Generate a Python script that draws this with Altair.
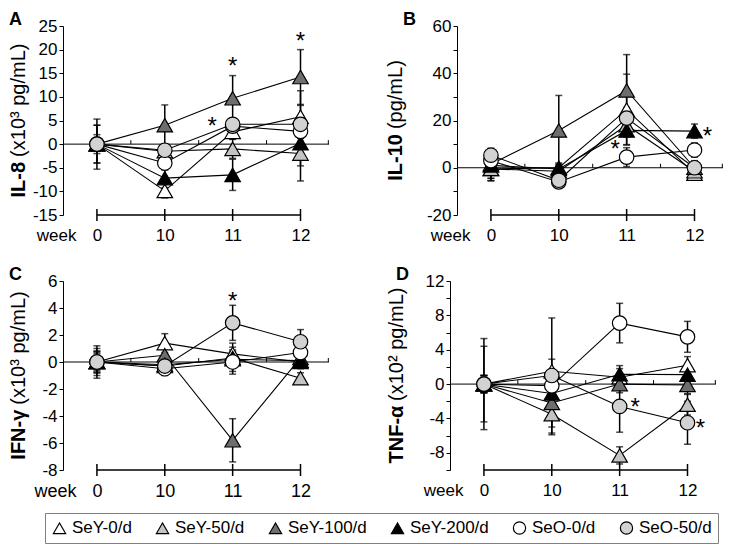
import altair as alt
import pandas as pd

series = ["SeY-0/d", "SeY-50/d", "SeY-100/d", "SeY-200/d", "SeO-0/d", "SeO-50/d"]
shapes = ["triangle-up", "triangle-up", "triangle-up", "triangle-up", "circle", "circle"]
fills = ["#FFFFFF", "#C4C4C4", "#6E6E6E", "#000000", "#FFFFFF", "#D2D2D2"]
week_labels = ["0", "10", "11", "12"]

# Panel A: IL-8 (x10^3 pg/mL)
il8_mean = {
    "SeY-0/d": [0, -9.9, 2.6, 5.8],
    "SeY-50/d": [0, -1.5, -1.0, -2.0],
    "SeY-100/d": [0, 4.0, 9.7, 14.2],
    "SeY-200/d": [0, -7.2, -6.5, 0.2],
    "SeO-0/d": [0, -4.0, 3.8, 2.7],
    "SeO-50/d": [0, -1.3, 4.2, 4.2],
}
il8_err = {
    "SeY-0/d": [1.2, 1.5, 1.5, 5.5],
    "SeY-50/d": [4.0, 1.5, 2.0, 2.6],
    "SeY-100/d": [5.3, 4.3, 4.8, 5.8],
    "SeY-200/d": [4.0, 2.0, 3.3, 8.0],
    "SeO-0/d": [2.0, 1.5, 1.5, 1.5],
    "SeO-50/d": [1.0, 1.0, 1.0, 1.5],
}
il8_star_x = [2.0, 1.70, 3.0]
il8_star_y = [17.8, 5.1, 23.1]

# Panel B: IL-10 (pg/mL)
il10_mean = {
    "SeY-0/d": [-0.5, 0.0, 24.6, -2.5],
    "SeY-50/d": [-0.5, -1.5, 18.0, -1.5],
    "SeY-100/d": [1.5, 15.8, 32.7, 0.0],
    "SeY-200/d": [1.0, -0.5, 15.8, 15.5],
    "SeO-0/d": [3.0, -6.0, 4.5, 7.5],
    "SeO-50/d": [5.3, -5.3, 21.0, 0.0],
}
il10_err = {
    "SeY-0/d": [5.0, 2.0, 15.0, 1.5],
    "SeY-50/d": [4.0, 2.0, 5.0, 2.0],
    "SeY-100/d": [6.0, 14.8, 15.2, 3.0],
    "SeY-200/d": [6.5, 2.0, 6.0, 3.0],
    "SeO-0/d": [3.0, 1.0, 4.0, 3.0],
    "SeO-50/d": [3.0, 1.0, 4.5, 2.0],
}
il10_star_x = [1.83, 3.19]
il10_star_y = [10.3, 15.9]

# Panel C: IFN-gamma (x10^3 pg/mL)
ifn_mean = {
    "SeY-0/d": [0, 1.4, 0.6, 0.0],
    "SeY-50/d": [0, -0.3, 0.3, -1.2],
    "SeY-100/d": [0, 0.5, -5.8, 0.3],
    "SeY-200/d": [0, -0.2, 0.2, 0.1],
    "SeO-0/d": [0, -0.5, 0.0, 0.7],
    "SeO-50/d": [0, -0.3, 2.9, 1.5],
}
ifn_err = {
    "SeY-0/d": [0.8, 0.7, 0.8, 0.5],
    "SeY-50/d": [0.6, 0.5, 0.5, 0.4],
    "SeY-100/d": [1.2, 0.5, 1.6, 0.5],
    "SeY-200/d": [0.8, 0.6, 0.9, 0.5],
    "SeO-0/d": [0.7, 0.5, 0.9, 0.4],
    "SeO-50/d": [1.0, 0.5, 1.3, 0.9],
}
ifn_star_x = [2.0]
ifn_star_y = [5.0]

# Panel D: TNF-alpha (x10^2 pg/mL)
tnf_mean = {
    "SeY-0/d": [0, 1.5, 0.8, 2.2],
    "SeY-50/d": [0, -3.5, -8.3, -2.4],
    "SeY-100/d": [0, -2.2, 0.0, -0.1],
    "SeY-200/d": [0, -1.1, 1.15, 1.1],
    "SeO-0/d": [0, -0.2, 7.1, 5.5],
    "SeO-50/d": [0, 1.0, -2.6, -4.5],
}
tnf_err = {
    "SeY-0/d": [5.3, 1.4, 1.0, 1.0],
    "SeY-50/d": [1.0, 2.4, 1.0, 1.2],
    "SeY-100/d": [1.0, 2.8, 1.0, 1.0],
    "SeY-200/d": [1.0, 1.0, 1.0, 1.0],
    "SeO-0/d": [4.4, 1.0, 2.3, 1.8],
    "SeO-50/d": [1.0, 6.7, 3.0, 2.5],
}
tnf_star_x = [2.23, 3.19]
tnf_star_y = [-2.0, -4.4]

W, H = 266, 189
XDOM = [-0.5, 3.42]
F = "Liberation Sans"

REG = {"(": .333, ")": .333, "x": .5, "1": .556, "0": .556, "³": .333, "²": .333,
       " ": .278, "p": .556, "g": .556, "/": .278, "m": .833, "L": .556}
BLD = {"I": .278, "L": .611, "-": .333, "8": .556, "1": .556, "0": .556, "F": .611,
       "N": .722, "γ": .556, "T": .611, "α": .6}


def tw(s, table, fs):
    return sum(table.get(c, .55) for c in s) * fs


LEG = alt.Legend(title=None, orient="none", legendX=-18, legendY=487, direction="horizontal",
                 labelFont=F, labelFontSize=17, labelColor="black", symbolSize=150,
                 symbolStrokeWidth=1.2, columnPadding=21,
                 labelOffset=4, padding=6, strokeColor="#808080", fillColor="white")


def panel(letter, tbold, trest, means, errs, ylo, yhi, ystep, lstep, sx, sy, title_x, week_fs):
    rows = []
    for s in series:
        for i in range(len(week_labels)):
            m = means[s][i]
            e = errs[s][i]
            rows.append({"series": s, "idx": i, "value": m, "lo": m - e, "hi": m + e})
    df = pd.DataFrame(rows)
    xs = alt.Scale(domain=XDOM, nice=False, zero=False)
    ys = alt.Scale(domain=[ylo, yhi], nice=False, zero=False)
    wk = "[" + ",".join("'%s'" % w for w in week_labels) + "][datum.value]"
    xax = alt.Axis(values=list(range(len(week_labels))), labelExpr=wk, domain=False, ticks=False,
                   grid=False, labelPadding=12, labelFontSize=week_fs, labelFont=F,
                   labelColor="black", title="week", titleX=13, titleY=12, titleAlign="right",
                   titleBaseline="top", titleFontWeight="normal", titleFontSize=week_fs,
                   titleFont=F, titleColor="black")
    yax = alt.Axis(values=list(range(ylo, yhi + 1, ystep)),
                   labelExpr="datum.value %% %d == 0 ? '' + datum.value : ''" % lstep,
                   grid=False, title=None, tickSize=4, labelPadding=2, labelFontSize=17,
                   labelFont=F, labelColor="black", domainColor="black", tickColor="black")

    def X(f):
        return alt.X(f, scale=xs, axis=xax)

    def Y(f):
        return alt.Y(f, scale=ys, axis=yax)

    one = pd.DataFrame({"k": [0]})
    zero = alt.Chart(one).mark_rule(color="black", strokeWidth=1).encode(
        x=alt.XDatum(XDOM[0], type="quantitative", scale=xs, axis=xax),
        x2=alt.X2Datum(XDOM[1]),
        y=alt.YDatum(0, type="quantitative", scale=ys, axis=yax))
    minor = alt.Chart(pd.DataFrame({"m": [0.5, 1.5, 2.5, XDOM[1] - 0.01]})).mark_rule(
        color="black", strokeWidth=1, y2Offset=-4).encode(
        x=X("m:Q"), y=alt.YDatum(0, type="quantitative", scale=ys, axis=yax), y2=alt.Y2Datum(0))
    bracket = alt.Chart(one).mark_rule(color="black", strokeWidth=1.5).encode(
        x=alt.XDatum(0, type="quantitative", scale=xs, axis=xax),
        x2=alt.X2Datum(len(week_labels) - 1),
        y=alt.YDatum(ylo, type="quantitative", scale=ys, axis=yax))
    bticks = alt.Chart(pd.DataFrame({"idx": list(range(len(week_labels)))})).mark_rule(
        color="black", strokeWidth=1.5, yOffset=-6, y2Offset=6).encode(
        x=X("idx:Q"), y=alt.YDatum(ylo, type="quantitative", scale=ys, axis=yax),
        y2=alt.Y2Datum(ylo))
    base = alt.Chart(df)
    lines = base.mark_line(color="black", strokeWidth=1.1).encode(
        x=X("idx:Q"), y=Y("value:Q"), detail="series:N")
    erule = base.mark_rule(color="black", strokeWidth=1.5).encode(
        x=X("idx:Q"), y=Y("lo:Q"), y2="hi:Q")
    caps = base.transform_fold(["lo", "hi"], as_=["k", "v"]).mark_tick(
        orient="horizontal", size=7, thickness=1.5, color="black").encode(
        x=X("idx:Q"), y=Y("v:Q"))
    SH = alt.Shape("series:N", scale=alt.Scale(domain=series, range=shapes), legend=LEG)
    FL = alt.Fill("series:N", scale=alt.Scale(domain=series, range=fills), legend=LEG)
    ST = alt.Stroke("series:N", scale=alt.Scale(domain=series, range=["#000000"] * len(series)),
                    legend=LEG)
    tri = base.transform_filter(alt.FieldOneOfPredicate(field="series", oneOf=series[:4])).mark_point(
        filled=True, size=240, strokeWidth=1.2, opacity=1).encode(
        x=X("idx:Q"), y=Y("value:Q"), shape=SH, fill=FL, stroke=ST)
    circ = base.transform_filter(alt.FieldOneOfPredicate(field="series", oneOf=series[4:])).mark_point(
        filled=True, size=210, strokeWidth=1.2, opacity=1).encode(
        x=X("idx:Q"), y=Y("value:Q"), shape=SH, fill=FL, stroke=ST)
    stars = alt.Chart(pd.DataFrame({"sx": sx, "sy": sy})).mark_text(
        text="*", fontSize=24, font=F, baseline="alphabetic", dy=14, color="black").encode(
        x=X("sx:Q"), y=Y("sy:Q"))
    wb = tw(tbold, BLD, 20)
    wr = tw(trest, REG, 20)
    sp = 5
    start = H / 2 + (wb + sp + wr) / 2
    tb = alt.Chart(one).mark_text(angle=270, align="left", baseline="middle", fontWeight="bold",
                                  fontSize=20, font=F, text=tbold, color="black").encode(
        x=alt.value(title_x), y=alt.value(start))
    tr = alt.Chart(one).mark_text(angle=270, align="left", baseline="middle",
                                  fontSize=20, font=F, text=trest, color="black").encode(
        x=alt.value(title_x), y=alt.value(start - wb - sp))
    let = alt.Chart(one).mark_text(align="left", baseline="top", fontWeight="bold",
                                   fontSize=18, font=F, text=letter, color="black").encode(
        x=alt.value(-54), y=alt.value(-15))
    return alt.layer(zero, minor, bracket, bticks, lines, erule, caps, tri, circ, stars,
                     tb, tr, let).properties(width=W, height=H)


pA = panel("A", "IL-8", "(x10³ pg/mL)", il8_mean, il8_err, -15, 25, 5, 5,
           il8_star_x, il8_star_y, -44, 17)
pB = panel("B", "IL-10", "(pg/mL)", il10_mean, il10_err, -20, 60, 10, 20,
           il10_star_x, il10_star_y, -61, 17)
pC = panel("C", "IFN-γ", "(x10³ pg/mL)", ifn_mean, ifn_err, -8, 6, 2, 2,
           ifn_star_x, ifn_star_y, -44, 18)
pD = panel("D", "TNF-α", "(x10² pg/mL)", tnf_mean, tnf_err, -10, 12, 2, 4,
           tnf_star_x, tnf_star_y, -53, 17)

row1 = alt.hconcat(pA, pB, spacing=56)
row2 = alt.hconcat(pC, pD, spacing=56)
chart = alt.vconcat(row1, row2, spacing=23).resolve_scale(
    shape="shared", fill="shared", stroke="shared").properties(
    padding={"left": 0, "top": 3, "right": 0, "bottom": 0}).configure_view(stroke=None)

chart.save("out.html", embed_options={"renderer": "svg", "actions": False})
